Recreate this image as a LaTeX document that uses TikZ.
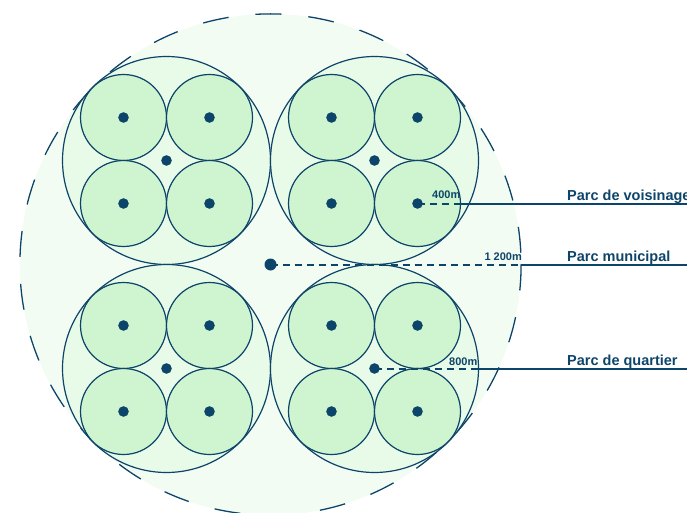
\documentclass[tikz,border=0pt]{standalone}
\usepackage{fontspec}
\setmainfont{Liberation Sans}
\definecolor{navy}{RGB}{13,68,105}
\definecolor{smallfill}{RGB}{207,244,208}
\definecolor{medfill}{RGB}{232,250,232}
\definecolor{bigfill}{RGB}{243,252,243}
\begin{document}
\begin{tikzpicture}[x=1pt,y=-1pt,
  bigc/.style={circle,inner sep=0pt,minimum size=501.2pt,fill=bigfill},
  medc/.style={circle,inner sep=0pt,minimum size=208pt,fill=medfill,draw=navy,line width=1.2pt},
  smallc/.style={circle,inner sep=0pt,minimum size=86pt,fill=smallfill,draw=navy,line width=1.2pt},
  dot/.style={circle,inner sep=0pt,minimum size=10.6pt,fill=navy},
  bigdot/.style={circle,inner sep=0pt,minimum size=12pt,fill=navy},
  leaderdash/.style={draw=navy,line width=2pt,dash pattern=on 7pt off 5pt},
  leader/.style={draw=navy,line width=2pt},
  dist/.style={inner sep=0pt,anchor=base east,text=navy,font=\fontsize{11}{13}\selectfont\bfseries},
  parc/.style={inner sep=0pt,anchor=base west,text=navy,font=\fontsize{14.5}{17}\selectfont\bfseries}]
\useasboundingbox (0,0) rectangle (687,513);
\begin{scope}
\clip (0,0) rectangle (687,513);
\node[bigc] (big) at (270.5,264.5) {};
\draw[navy,line width=1.3pt,dash pattern=on 26pt off 27pt] (270.5,264.5) circle[radius=250.6];
% medium circles
\foreach \n/\mx/\my in {A/166.5/160.5,B/374.5/160.5,C/166.5/368.5,D/374.5/368.5}{
  \node[medc] (m\n) at (\mx,\my) {};
}
\foreach \n/\mx/\my in {A/166.5/160.5,B/374.5/160.5,C/166.5/368.5,D/374.5/368.5}{
  \foreach \k/\dx/\dy in {1/-43/-43,2/43/-43,3/-43/43,4/43/43}{
    \node[smallc] (s\n\k) at (\mx+\dx,\my+\dy) {};
    \node[dot] (d\n\k) at (s\n\k.center) {};
  }
  \node[dot] (dm\n) at (m\n.center) {};
}
\node[bigdot] (dbig) at (big.center) {};
% leader lines
\coordinate (vEdge) at (sB4.east);
\coordinate (vEnd) at (687,203.5);
\coordinate (mEdge) at (521.1,264.5);
\coordinate (mEnd) at (687,264.5);
\coordinate (qEdge) at (mD.east);
\coordinate (qEnd) at (687,368.5);
\draw[leaderdash] (dB4.center) -- (vEdge);
\draw[leader] (vEdge) -- (vEnd);
\draw[leaderdash] (dbig.center) -- (mEdge);
\draw[leader] (mEdge) -- (mEnd);
\draw[leaderdash] (dmD.center) -- (qEdge);
\draw[leader] (qEdge) -- (qEnd);
% labels
\node[dist] (l400) at (460.5,198.3) {400m};
\node[dist] (l1200) at (522,260.7) {1 200m};
\node[dist] (l800) at (477.5,365) {800m};
\node[parc] (pv) at (567,200) {Parc de voisinage};
\node[parc] (pm) at (567,261.7) {Parc municipal};
\node[parc] (pq) at (567,365) {Parc de quartier};
\end{scope}
\end{tikzpicture}
\end{document}
